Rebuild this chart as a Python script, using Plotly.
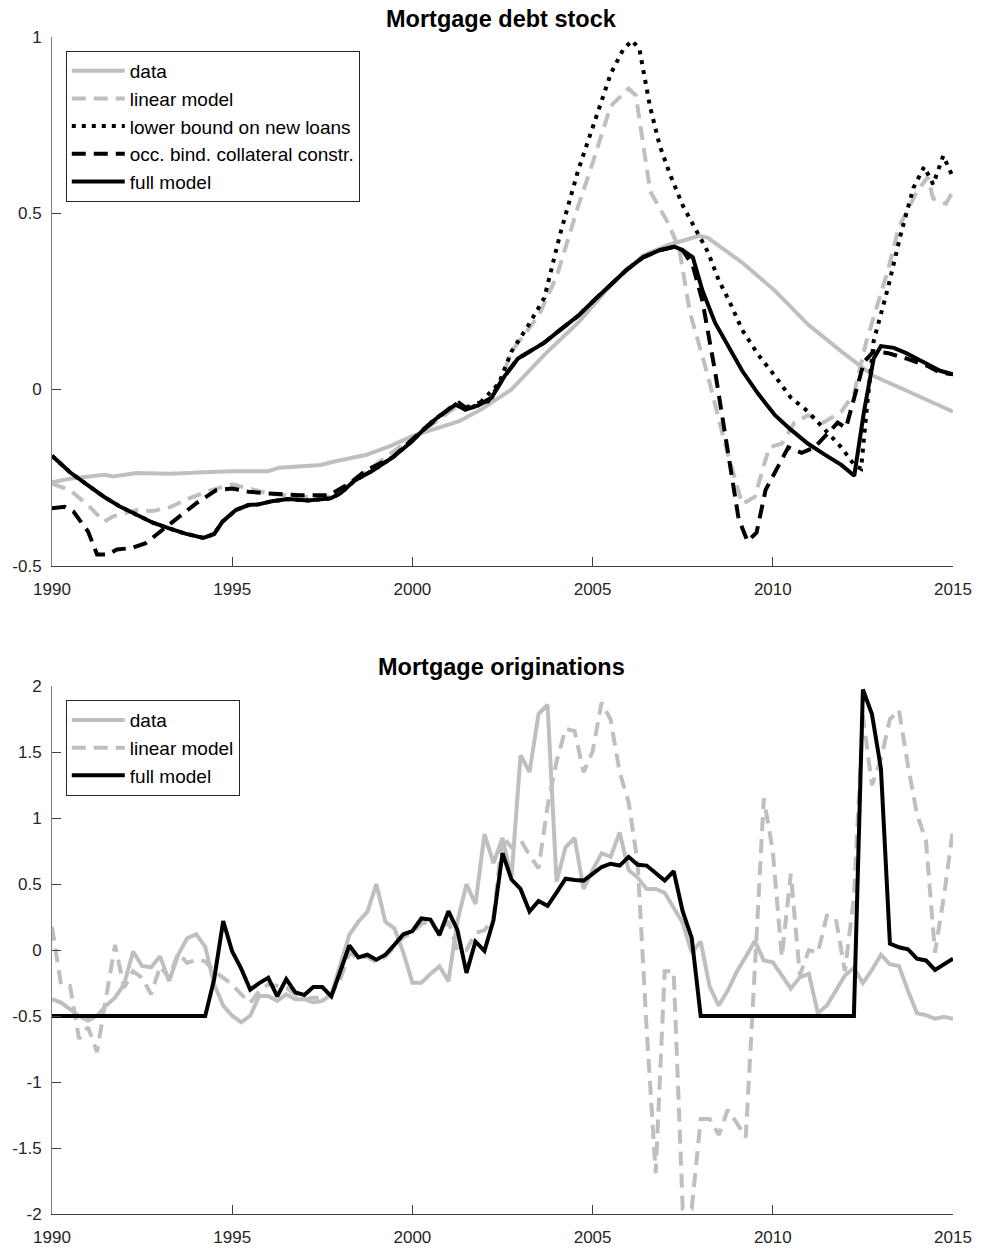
import plotly.graph_objects as go

# ---------------- Top panel: Mortgage debt stock ----------------
top_data_x = [1990.0, 1990.5, 1991.45, 1991.7, 1992.35, 1993.3, 1994.2, 1995.0, 1996.0, 1996.3, 1997.46,
              1997.8, 1998.7, 1999.4, 2000.0, 2000.55, 2001.3, 2001.9, 2002.4, 2002.75, 2003.66, 2004.6,
              2005.5, 2006.4, 2007.1, 2007.96, 2008.2, 2009.15, 2010.06, 2010.98, 2011.9, 2012.8, 2013.7,
              2014.6, 2015.0]
top_data_y = [-0.263, -0.253, -0.242, -0.247, -0.237, -0.239, -0.235, -0.232, -0.232, -0.222, -0.214,
              -0.205, -0.186, -0.16, -0.132, -0.113, -0.09, -0.057, -0.025, 0.0, 0.098, 0.19,
              0.295, 0.38, 0.41, 0.436, 0.43, 0.36, 0.28, 0.184, 0.108, 0.038, -0.003,
              -0.043, -0.063]

top_linear_x = [1990.0, 1990.5, 1991.0, 1991.45, 1991.7, 1992.35, 1992.8, 1993.3, 1993.8, 1994.4, 1995.0,
                1995.5, 1996.0, 1996.9, 1997.8, 1998.7, 2000.0, 2000.55, 2001.3, 2001.65, 2002.2, 2002.4,
                2002.75, 2003.5, 2004.0, 2004.6, 2005.0, 2005.5, 2006.0, 2006.2, 2006.6, 2007.1, 2007.4,
                2007.7, 2008.2, 2008.7, 2009.15, 2009.5, 2009.9, 2010.25, 2010.6, 2010.98, 2011.4, 2011.9,
                2012.25, 2012.6, 2013.2, 2013.5, 2014.0, 2014.3, 2014.45, 2014.8, 2015.0]
top_linear_y = [-0.267, -0.286, -0.328, -0.375, -0.36, -0.342, -0.345, -0.333, -0.309, -0.286, -0.269,
                -0.281, -0.295, -0.305, -0.305, -0.235, -0.136, -0.099, -0.043, -0.052, -0.034, 0.01,
                0.108, 0.209, 0.32, 0.52, 0.642, 0.804, 0.854, 0.834, 0.562, 0.471, 0.4,
                0.219, 0.038, -0.164, -0.325, -0.305, -0.164, -0.154, -0.094, -0.073, -0.094, -0.063,
                -0.013, 0.138, 0.34, 0.461, 0.562, 0.602, 0.542, 0.527, 0.562]

top_full_x = [1990.0, 1990.5, 1991.0, 1991.45, 1991.9, 1992.35, 1992.8, 1993.27, 1993.7, 1994.2, 1994.5,
              1994.73, 1995.1, 1995.45, 1995.73, 1996.1, 1996.55, 1997.1, 1997.73, 1998.0, 1998.4, 1998.9,
              1999.45, 2000.0, 2000.4, 2000.8, 2001.2, 2001.47, 2001.83, 2002.2, 2002.56, 2002.93, 2003.66,
              2004.1, 2004.6, 2005.0, 2005.5, 2005.95, 2006.4, 2006.86, 2007.27, 2007.5, 2007.78, 2008.05,
              2008.4, 2008.8, 2009.15, 2009.6, 2010.06, 2010.5, 2010.98, 2011.43, 2011.9, 2012.26, 2012.53,
              2012.8, 2013.0, 2013.36, 2013.7, 2014.27, 2014.64, 2015.0]
top_full_y = [-0.188, -0.235, -0.272, -0.305, -0.333, -0.356, -0.378, -0.395, -0.409, -0.421, -0.41,
              -0.375, -0.342, -0.328, -0.326, -0.317, -0.311, -0.315, -0.309, -0.295, -0.258, -0.23,
              -0.193, -0.146, -0.104, -0.071, -0.043, -0.057, -0.045, -0.023, 0.038, 0.088, 0.133,
              0.169, 0.209, 0.249, 0.295, 0.34, 0.375, 0.395, 0.405, 0.395, 0.375, 0.28,
              0.189, 0.118, 0.053, -0.013, -0.073, -0.114, -0.154, -0.184, -0.214, -0.245, -0.063,
              0.088, 0.123, 0.118, 0.103, 0.073, 0.053, 0.043]

top_lower_x = [1990.0, 1990.5, 1991.0, 1991.45, 1991.9, 1992.35, 1992.8, 1993.27, 1993.7, 1994.2, 1994.5,
               1994.73, 1995.1, 1995.45, 1995.73, 1996.1, 1996.55, 1997.1, 1997.73, 1998.0, 1998.4, 1998.9,
               1999.45, 2000.0, 2000.4, 2000.8, 2001.2, 2001.47, 2001.83, 2002.4, 2002.75, 2003.2, 2003.66,
               2004.1, 2004.6, 2005.0, 2005.5, 2005.85, 2006.1, 2006.3, 2006.59, 2006.86, 2007.14, 2007.5,
               2007.87, 2008.2, 2008.5, 2008.8, 2009.15, 2009.6, 2010.06, 2010.5, 2010.98, 2011.43, 2011.9,
               2012.26, 2012.45, 2012.6, 2012.8, 2013.2, 2013.55, 2013.9, 2014.2, 2014.45, 2014.73, 2015.0]
top_lower_y = [-0.188, -0.235, -0.272, -0.305, -0.333, -0.356, -0.378, -0.395, -0.409, -0.421, -0.41,
               -0.375, -0.342, -0.328, -0.326, -0.317, -0.311, -0.315, -0.309, -0.295, -0.258, -0.23,
               -0.193, -0.146, -0.104, -0.071, -0.043, -0.057, -0.043, 0.017, 0.108, 0.179, 0.26,
               0.441, 0.622, 0.743, 0.895, 0.965, 0.99, 0.965, 0.804, 0.693, 0.612, 0.522,
               0.451, 0.39, 0.31, 0.249, 0.169, 0.098, 0.038, -0.023, -0.063, -0.114, -0.164,
               -0.214, -0.225, -0.063, 0.138, 0.29, 0.44, 0.572, 0.632, 0.582, 0.663, 0.602]

top_occ_x = [1990.0, 1990.35, 1990.6, 1991.0, 1991.25, 1991.55, 1991.8, 1992.2, 1992.6, 1993.0, 1993.45,
             1994.0, 1994.55, 1995.0, 1995.45, 1996.0, 1996.9, 1997.7, 1998.3, 1998.7, 1999.45, 2000.0,
             2000.55, 2001.1, 2001.3, 2001.47, 2001.83, 2002.1, 2002.4, 2002.56, 2002.93, 2003.66, 2004.1,
             2004.6, 2005.0, 2005.5, 2005.95, 2006.4, 2006.86, 2007.27, 2007.5, 2007.78, 2008.05, 2008.4,
             2008.8, 2009.05, 2009.3, 2009.55, 2009.8, 2010.06, 2010.43, 2010.8, 2011.16, 2011.53, 2011.8,
             2012.03, 2012.26, 2012.53, 2012.8, 2013.2, 2013.7, 2014.27, 2014.64, 2015.0]
top_occ_y = [-0.337, -0.333, -0.347, -0.403, -0.468, -0.468, -0.454, -0.45, -0.436, -0.403, -0.365,
             -0.323, -0.286, -0.281, -0.29, -0.295, -0.3, -0.3, -0.263, -0.23, -0.193, -0.141,
             -0.094, -0.048, -0.038, -0.052, -0.038, -0.034, 0.013, 0.038, 0.088, 0.133, 0.169,
             0.209, 0.249, 0.295, 0.34, 0.375, 0.395, 0.405, 0.395, 0.351, 0.25, 0.05,
             -0.2, -0.366, -0.431, -0.406, -0.285, -0.235, -0.164, -0.18, -0.164, -0.124, -0.094,
             -0.109, -0.023, 0.078, 0.108, 0.103, 0.088, 0.068, 0.048, 0.043]

# ---------------- Bottom panel: Mortgage originations (quarterly 1990Q1-2015Q1) ----------------
quarters = [1990 + k / 4 for k in range(101)]

orig_data = [-0.372, -0.397, -0.447, -0.50, -0.534, -0.497, -0.42, -0.36, -0.26, -0.01,
             -0.12, -0.13, -0.047, -0.235, -0.035, 0.09, 0.12, 0.027, -0.26, -0.42,
             -0.497, -0.547, -0.497, -0.347, -0.347, -0.385, -0.335, -0.372, -0.372, -0.397,
             -0.385, -0.335, -0.11, 0.115, 0.215, 0.29, 0.50, 0.215, 0.165, -0.02,
             -0.247, -0.247, -0.18, -0.122, -0.235, 0.22, 0.50, 0.35, 0.88, 0.66,
             0.85, 0.55, 1.477, 1.35, 1.79, 1.86, 0.52, 0.78, 0.85, 0.464,
             0.607, 0.735, 0.707, 0.892, 0.607, 0.55, 0.464, 0.464, 0.435, 0.32,
             0.207, -0.02, 0.065, -0.278, -0.42, -0.307, -0.164, -0.05, 0.07, -0.078,
             -0.092, -0.192, -0.292, -0.206, -0.178, -0.478, -0.42, -0.307, -0.192, -0.135,
             -0.25, -0.15, -0.035, -0.107, -0.121, -0.307, -0.478, -0.492, -0.52, -0.506,
             -0.52]

orig_linear = [0.177, -0.26, -0.272, -0.672, -0.584, -0.772, -0.36, 0.04, -0.285, -0.16,
               -0.21, -0.335, -0.122, -0.21, -0.022, -0.097, -0.072, -0.085, -0.16, -0.21,
               -0.26, -0.335, -0.40, -0.31, -0.26, -0.27, -0.285, -0.335, -0.372, -0.36,
               -0.36, -0.335, -0.22, -0.02, -0.06, -0.05, -0.09, -0.05, 0.03, 0.10,
               0.13, 0.20, 0.22, 0.12, 0.22, 0.0, 0.0, 0.13, 0.15, 0.25,
               0.86, 0.78, 0.835, 0.72, 0.62, 1.09, 1.43, 1.677, 1.66, 1.348,
               1.506, 1.877, 1.748, 1.348, 1.12, 0.66, -0.6, -1.69, -0.16, -0.16,
               -1.96, -1.96, -1.28, -1.28, -1.40, -1.21, -1.31, -1.42, -0.15, 1.15,
               0.75, -0.05, 0.58, -0.19, 0.0, -0.02, 0.26, 0.24, -0.16, 0.4,
               1.78, 1.25, 1.45, 1.75, 1.82, 1.40, 1.03, 0.83, -0.02, 0.41,
               0.92]

orig_full = ([-0.5] * 18 +
             [-0.22, 0.22, -0.01, -0.14, -0.30, -0.25, -0.21, -0.35, -0.22, -0.32,
              -0.34, -0.28, -0.28, -0.35, -0.16, 0.035, -0.055, -0.035, -0.072, -0.035,
              0.04, 0.12, 0.145, 0.24, 0.232, 0.115, 0.295, 0.152, -0.172, 0.065,
              -0.005, 0.227, 0.735, 0.535, 0.464, 0.293, 0.373, 0.336, 0.436, 0.541,
              0.532, 0.527, 0.578, 0.63, 0.655, 0.641, 0.707, 0.647, 0.641, 0.584,
              0.527, 0.598, 0.293, 0.093] +
             [-0.5] * 18 +
             [1.976, 1.79, 1.377, 0.05, 0.022, 0.007, -0.064, -0.078, -0.15, -0.107, -0.064])

x_ticks = [1990, 1995, 2000, 2005, 2010, 2015]
top_yticks = [-0.5, 0, 0.5, 1]
top_yticktext = ["-0.5", "0", "0.5", "1"]
bot_yticks = [-2, -1.5, -1, -0.5, 0, 0.5, 1, 1.5, 2]
bot_yticktext = ["-2", "-1.5", "-1", "-0.5", "0", "0.5", "1", "1.5", "2"]

GREY = "rgb(191,191,191)"
BLACK = "black"
LW = 4
DASH = "14px,8px"
DOT = "4px,6px"
FONT = "Liberation Sans, Arial, Helvetica, sans-serif"

fig = go.Figure()

# top traces
fig.add_trace(go.Scatter(x=top_data_x, y=top_data_y, mode="lines", name="data",
                         line=dict(color=GREY, width=LW), xaxis="x", yaxis="y", legend="legend"))
fig.add_trace(go.Scatter(x=top_linear_x, y=top_linear_y, mode="lines", name="linear model",
                         line=dict(color=GREY, width=LW, dash=DASH), xaxis="x", yaxis="y", legend="legend"))
fig.add_trace(go.Scatter(x=top_lower_x, y=top_lower_y, mode="lines", name="lower bound on new loans",
                         line=dict(color=BLACK, width=LW, dash=DOT), xaxis="x", yaxis="y", legend="legend"))
fig.add_trace(go.Scatter(x=top_occ_x, y=top_occ_y, mode="lines", name="occ. bind. collateral constr.",
                         line=dict(color=BLACK, width=LW, dash=DASH), xaxis="x", yaxis="y", legend="legend"))
fig.add_trace(go.Scatter(x=top_full_x, y=top_full_y, mode="lines", name="full model",
                         line=dict(color=BLACK, width=LW), xaxis="x", yaxis="y", legend="legend"))

# bottom traces
fig.add_trace(go.Scatter(x=quarters, y=orig_data, mode="lines", name="data",
                         line=dict(color=GREY, width=LW), xaxis="x2", yaxis="y2", legend="legend2"))
fig.add_trace(go.Scatter(x=quarters, y=orig_linear, mode="lines", name="linear model",
                         line=dict(color=GREY, width=LW, dash=DASH), xaxis="x2", yaxis="y2", legend="legend2"))
fig.add_trace(go.Scatter(x=quarters, y=orig_full, mode="lines", name="full model",
                         line=dict(color=BLACK, width=LW), xaxis="x2", yaxis="y2", legend="legend2"))

TICKFONT = dict(family=FONT, size=17, color="#262626")
xcommon = dict(range=[1990, 2015], tickmode="array", tickvals=x_ticks, ticktext=[str(v) for v in x_ticks],
               ticks="inside", ticklen=9, tickcolor="#404040", tickwidth=1, showline=True,
               linecolor="#404040", linewidth=1, showgrid=False, zeroline=False, tickfont=TICKFONT,
               ticklabelstandoff=8)
ycommon = dict(tickmode="array", ticks="inside", ticklen=9, tickcolor="#404040", tickwidth=1,
               showline=True, linecolor="#7f7f7f", linewidth=1, showgrid=False, zeroline=False,
               tickfont=TICKFONT, ticklabelstandoff=6)

# Page layout in pixels (body margin removed by post_script, so figure coords = page coords)
W, H = 984, 1259
plot_left, plot_right = 47, 962
plot_top, plot_bottom = 37, 1228
ph = plot_bottom - plot_top
pw = plot_right - plot_left

def fy(py):
    return (plot_bottom - py) / ph

def fx(px):
    return (px - plot_left) / pw

legend_common = dict(bgcolor="white", bordercolor="#262626", borderwidth=1,
                     font=dict(family=FONT, size=19, color="black"), xanchor="left", yanchor="top",
                     itemwidth=53, tracegroupgap=0)

fig.update_layout(
    width=W, height=H,
    margin=dict(l=plot_left, r=W - plot_right, t=plot_top, b=H - plot_bottom, pad=0),
    paper_bgcolor="white", plot_bgcolor="white",
    showlegend=True,
    xaxis=dict(domain=[0, 1], anchor="y", **xcommon),
    yaxis=dict(domain=[fy(572), 1.0], anchor="x", range=[-0.5, 1], tickvals=top_yticks,
               ticktext=top_yticktext, **ycommon),
    xaxis2=dict(domain=[0, 1], anchor="y2", **xcommon),
    yaxis2=dict(domain=[0, fy(694)], anchor="x2", range=[-2, 2], tickvals=bot_yticks,
                ticktext=bot_yticktext, **ycommon),
    legend=dict(x=fx(61), y=fy(51), **legend_common),
    legend2=dict(x=fx(61), y=fy(708), **legend_common),
    annotations=[
        dict(text="<b>Mortgage debt stock</b>", x=fx(503), xref="paper", y=fy(34), yref="paper",
             xanchor="center", yanchor="bottom", showarrow=False,
             font=dict(family=FONT, size=23.5, color="black")),
        dict(text="<b>Mortgage originations</b>", x=fx(503), xref="paper", y=fy(690), yref="paper",
             xanchor="center", yanchor="bottom", showarrow=False,
             font=dict(family=FONT, size=23.5, color="black")),
    ],
)

fig.write_html("out.html", config={"displayModeBar": False},
               post_script="document.body.style.margin='0';document.body.style.overflow='hidden';")
